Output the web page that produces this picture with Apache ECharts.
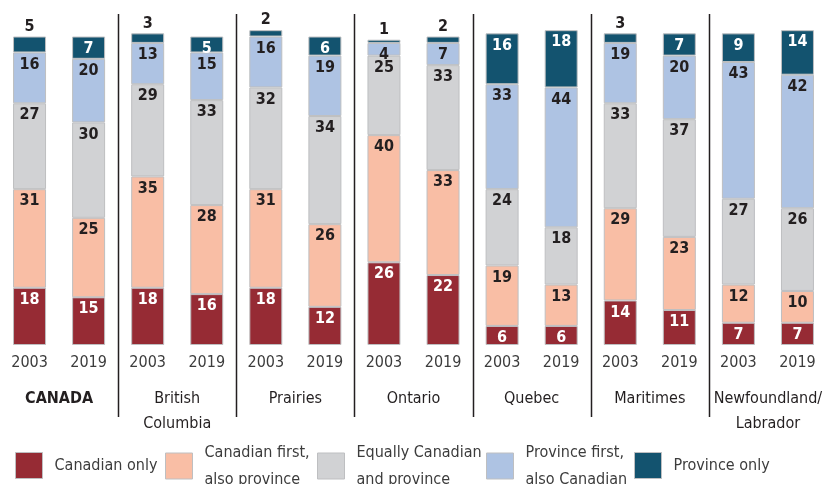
<!DOCTYPE html>
<html>
<head>
<meta charset="utf-8">
<script src="https://cdn.jsdelivr.net/npm/echarts@6/dist/echarts.min.js"></script>
<style>
  html, body { margin: 0; padding: 0; background: #fff; }
  #chart { width: 827px; height: 484px; }
</style>
</head>
<body>
<div id="chart"></div>
<script>
// ---- data ----
const years = ['2003', '2019', '2003', '2019', '2003', '2019', '2003', '2019', '2003', '2019', '2003', '2019', '2003', '2019']
const regions = ['CANADA', 'British\nColumbia', 'Prairies', 'Ontario', 'Quebec', 'Maritimes', 'Newfoundland/\nLabrador']
const seriesNames = ['Canadian only', 'Canadian first, also province', 'Equally Canadian and province', 'Province first, also Canadian', 'Province only']
const canadianOnly = [18, 15, 18, 16, 18, 12, 26, 22, 6, 6, 14, 11, 7, 7]
const canadianFirst = [31, 25, 35, 28, 31, 26, 40, 33, 19, 13, 29, 23, 12, 10]
const equally = [27, 30, 29, 33, 32, 34, 25, 33, 24, 18, 33, 37, 27, 26]
const provinceFirst = [16, 20, 13, 15, 16, 19, 4, 7, 33, 44, 19, 20, 43, 42]
const provinceOnly = [5, 7, 3, 5, 2, 6, 1, 2, 16, 18, 3, 7, 9, 14]
// top segment label drawn above the bar for these bars
const labelAbove = [true, false, true, false, true, false, true, true, false, false, true, false, false, false]

// ---- style ----
const FONT = "'Liberation Sans Narrow', 'DejaVu Sans Condensed', 'Noto Sans', sans-serif"
const colors = ['#962B34', '#F9BEA5', '#D1D2D4', '#AEC3E3', '#13536F']
const labelColors = ['#fff', '#231F20', '#231F20', '#231F20', '#fff']
const legendText = {
  'Canadian only': 'Canadian only',
  'Canadian first, also province': 'Canadian first,\nalso province',
  'Equally Canadian and province': 'Equally Canadian\nand province',
  'Province first, also Canadian': 'Province first,\nalso Canadian',
  'Province only': 'Province only'
}
const legendLeft = [15, 165, 317, 486, 634]

const allValues = [canadianOnly, canadianFirst, equally, provinceFirst, provinceOnly]

const series = allValues.map((vals, si) => ({
  name: seriesNames[si],
  type: 'bar',
  stack: 'total',
  barWidth: 33,
  itemStyle: { color: colors[si], borderColor: '#BEBFC1', borderWidth: 1 },
  label: {
    show: true,
    position: 'insideTop',
    distance: 4,
    color: labelColors[si],
    fontFamily: FONT,
    fontWeight: 'bold',
    fontSize: 16
  },
  data: vals.map((v, i) => (si === 4 && labelAbove[i])
    ? { value: v, label: { position: 'top', distance: 2, color: '#231F20' } }
    : v)
}))

// one legend per item so each sits where the original puts it
const legends = seriesNames.map((n, i) => {
  const twoLines = legendText[n].indexOf('\n') >= 0
  return {
    left: legendLeft[i],
    top: twoLines ? 439 : 452,
    padding: 0,
    itemWidth: 27,
    itemHeight: 26,
    icon: 'rect',
    itemStyle: { borderColor: '#BEBFC1', borderWidth: 1 },
    textStyle: { fontFamily: FONT, fontSize: 16, color: '#3C3C3C', lineHeight: 27, padding: [0, 0, 0, 7] },
    formatter: t => legendText[t],
    data: [n]
  }
})

const chart = echarts.init(document.getElementById('chart'), null, { renderer: 'canvas' })

chart.setOption({
  animation: false,
  color: colors,
  grid: { left: -4.25, right: -1.75, top: 27, bottom: 139 },
  xAxis: [
    {
      type: 'category',
      data: years,
      axisLine: { show: false },
      axisTick: { show: false },
      axisLabel: { interval: 0, margin: 10, color: '#3C3C3C', fontFamily: FONT, fontSize: 16 }
    },
    {
      type: 'category',
      data: regions,
      position: 'bottom',
      axisLine: { show: false },
      axisTick: { show: false },
      axisLabel: {
        interval: 0,
        margin: 41,
        color: '#231F20',
        fontFamily: FONT,
        fontSize: 16,
        lineHeight: 25,
        formatter: v => v === 'CANADA' ? '{b|' + v + '}' : v,
        rich: { b: { fontWeight: 'bold', fontFamily: FONT, fontSize: 16, color: '#231F20' } }
      }
    }
  ],
  yAxis: { type: 'value', min: 0, max: 100, show: false },
  legend: legends,
  series: series
})

// ---- separators between regions ----
const lines = []
for (let g = 1; g < regions.length; g++) {
  const x0 = chart.convertToPixel({ xAxisIndex: 0 }, 2 * g - 1)
  const x1 = chart.convertToPixel({ xAxisIndex: 0 }, 2 * g)
  const x = Math.round((x0 + x1) / 2) + 0.5
  lines.push({
    type: 'line',
    shape: { x1: x, y1: 14, x2: x, y2: 417 },
    style: { stroke: '#231F20', lineWidth: 1.5 }
  })
}
chart.setOption({ graphic: lines })
</script>
</body>
</html>
